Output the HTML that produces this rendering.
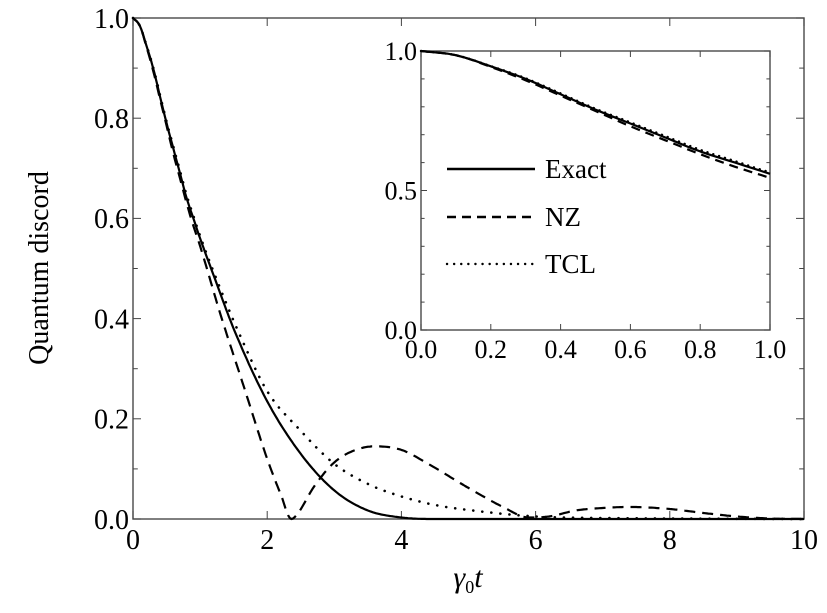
<!DOCTYPE html>
<html><head><meta charset="utf-8"><style>
html,body{margin:0;padding:0;background:#fff;}
svg{display:block;}
svg text{font-family:"Liberation Serif","DejaVu Serif",serif;}
</style></head><body>
<svg id="chart" width="827" height="613" viewBox="0 0 827 613" xmlns="http://www.w3.org/2000/svg" font-family="Liberation Serif, serif"></svg>
<script>
const mainTicksX=[0,2,4,6,8,10];
const mainTickLabelsX=["0","2","4","6","8","10"];
const mainTicksY=[0,0.2,0.4,0.6,0.8,1.0];
const mainTickLabelsY=["0.0","0.2","0.4","0.6","0.8","1.0"];
const insetTicksX=[0,0.2,0.4,0.6,0.8,1.0];
const insetTickLabelsX=["0.0","0.2","0.4","0.6","0.8","1.0"];
const insetTicksY=[0,0.5,1.0];
const insetTickLabelsY=["0.0","0.5","1.0"];
const exactT=[0,0.1,0.2,0.3,0.4,0.5,0.6,0.7,0.8,0.9,1.0,1.2,1.5,2,2.5,3,3.5,4,4.5,5,10];
const exactV=[1,0.985,0.945,0.9,0.845,0.79,0.74,0.69,0.64,0.6,0.56,0.487,0.38,0.235,0.13,0.057,0.017,0.003,0,0,0];
const nzT=[0,0.1,0.2,0.3,0.4,0.5,0.6,0.7,0.8,0.9,1.0,1.3,1.65,2,2.2,2.36,2.45,2.7,3,3.3,3.6,4,4.4,5,5.5,5.9,6.2,6.6,7,7.4,8,8.5,9,9.5,10];
const nzV=[1,0.985,0.943,0.895,0.84,0.785,0.73,0.68,0.63,0.585,0.545,0.41,0.265,0.12,0.05,0,0.01,0.065,0.113,0.137,0.145,0.138,0.11,0.062,0.025,0.003,0.005,0.017,0.022,0.024,0.02,0.012,0.005,0.001,0];
const tclT=[0,0.1,0.2,0.3,0.4,0.5,0.6,0.7,0.8,0.9,1.0,1.3,1.65,2,2.5,3,3.5,4,4.5,5,6,7,8,10];
const tclV=[1,0.985,0.946,0.902,0.848,0.793,0.744,0.695,0.646,0.605,0.565,0.46,0.35,0.255,0.176,0.11,0.07,0.045,0.028,0.018,0.005,0.002,0.001,0];

const NS="http://www.w3.org/2000/svg";
const svg=document.getElementById('chart');
function mk(tag,attrs,parent){const e=document.createElementNS(NS,tag);for(const k in attrs)e.setAttribute(k,attrs[k]);(parent||svg).appendChild(e);return e;}
const M={l:133,r:804,t:18,b:519,x0:0,x1:10,y0:0,y1:1};
const I={l:421,r:770,t:51,b:330,x0:0,x1:1,y0:0,y1:1};
function sx(A,v){return A.l+(v-A.x0)/(A.x1-A.x0)*(A.r-A.l);}
function sy(A,v){return A.b-(v-A.y0)/(A.y1-A.y0)*(A.b-A.t);}
function smooth(xs,ys,xmax){const n=xs.length,d=[],m=[];
  for(let i=0;i<n-1;i++)d.push((ys[i+1]-ys[i])/(xs[i+1]-xs[i]));
  m[0]=d[0];m[n-1]=d[n-2];
  for(let i=1;i<n-1;i++){m[i]=(d[i-1]*d[i]<=0)?0:(d[i-1]+d[i])/2;}
  for(let i=0;i<n-1;i++){if(d[i]===0){m[i]=0;m[i+1]=0;continue;}const a=m[i]/d[i],b=m[i+1]/d[i],s=a*a+b*b;if(s>9){const t=3/Math.sqrt(s);m[i]=t*a*d[i];m[i+1]=t*b*d[i];}}
  const T=[],V=[];
  for(let i=0;i<n-1;i++){if(xs[i]>=xmax)break;const h=xs[i+1]-xs[i];const N=Math.max(4,Math.ceil(h*40));
    for(let s=0;s<N;s++){const u=s/N,x=xs[i]+u*h;if(x>xmax)break;const h00=2*u*u*u-3*u*u+1,h10=u*u*u-2*u*u+u,h01=-2*u*u*u+3*u*u,h11=u*u*u-u*u;
      T.push(x);V.push(Math.max(0,h00*ys[i]+h10*h*m[i]+h01*ys[i+1]+h11*h*m[i+1]));}}
  let j=xs.findIndex(x=>x>=xmax);if(j<0)j=n-1;
  if(xs[j]===xmax){T.push(xmax);V.push(ys[j]);}
  return [T,V];}

function axes(A,name,ticksX,labX,ticksY,labY,fs,minorY,len){
  const f=mk('rect',{x:A.l,y:A.t,width:A.r-A.l,height:A.b-A.t,fill:'#fff',stroke:'#555',"stroke-width":1.5});
  
  
  ticksX.forEach((v,i)=>{const x=sx(A,v);
    mk('line',{x1:x,y1:A.b,x2:x,y2:A.b-len,stroke:'#444'});
    mk('line',{x1:x,y1:A.t,x2:x,y2:A.t+len,stroke:'#444'});
    const t=mk('text',{x:x,y:A.b+fs+2,"font-size":fs,"text-anchor":"middle"});t.textContent=labX[i];
    
    });
  ticksY.forEach((v,i)=>{const y=sy(A,v);
    const t=mk('text',{x:A.l-4,y:y+fs*0.35,"font-size":fs,"text-anchor":"end"});t.textContent=labY[i];
    
    });
  minorY.forEach(v=>{const y=sy(A,v);const big=ticksY.some(q=>Math.abs(q-v)<1e-9);const L=big?len:len*0.6;
    mk('line',{x1:A.l,y1:y,x2:A.l+L,y2:y,stroke:'#444'});
    mk('line',{x1:A.r,y1:y,x2:A.r-L,y2:y,stroke:'#444'});});
}
const minor=[];for(let i=0;i<=10;i++)minor.push(i/10);
axes(M,'main',mainTicksX,mainTickLabelsX,mainTicksY,mainTickLabelsY,28,minor,8);

function series(A,name,ts,vs,dash,w,cap){
  const [T,V]=smooth(ts,vs,A.x1);
  let d="";for(let i=0;i<T.length;i++)d+=(i?"L":"M")+sx(A,T[i]).toFixed(1)+" "+sy(A,V[i]).toFixed(1);
  const p=mk('path',{d:d,fill:'none',stroke:'#000',"stroke-width":w,"stroke-dasharray":dash,"stroke-linecap":cap||'butt',"stroke-linejoin":"round"});
  
  
}
series(M,'main-exact-line',exactT,exactV,'none',2.2);
series(M,'main-nz-line',nzT,nzV,'11 7',2.2);
series(M,'main-tcl-line',tclT,tclV,'0.1 9',2.6,'round');

axes(I,'inset',insetTicksX,insetTickLabelsX,insetTicksY,insetTickLabelsY,26,minor,6);
series(I,'inset-exact-line',exactT,exactV,'none',2.2);
series(I,'inset-nz-line',nzT,nzV,'9 6',2.2);
series(I,'inset-tcl-line',tclT,tclV,'0.1 6',2.4,'round');

const leg=[['Exact','none',169,'butt'],['NZ','9 6',217,'butt'],['TCL','0.1 7',264,'round']];
leg.forEach(l=>{const g=mk('g',{});
  
  
  mk('line',{x1:447,y1:l[2],x2:535,y2:l[2],stroke:'#000',"stroke-width":2.4,"stroke-dasharray":l[1],"stroke-linecap":l[3]},g);
  const t=mk('text',{x:545,y:l[2]+9,"font-size":27},g);t.textContent=l[0];});

const yt=mk('text',{x:0,y:0,"font-size":28,"text-anchor":"middle",transform:"translate(48,268) rotate(-90)"});yt.textContent="Quantum discord";


const xt=mk('text',{x:468,y:587,"font-size":30,"text-anchor":"middle","font-style":"italic"});


xt.innerHTML='γ<tspan font-size="18" dy="6" font-style="normal">0</tspan><tspan dy="-6">t</tspan>';
</script>
</body></html>
